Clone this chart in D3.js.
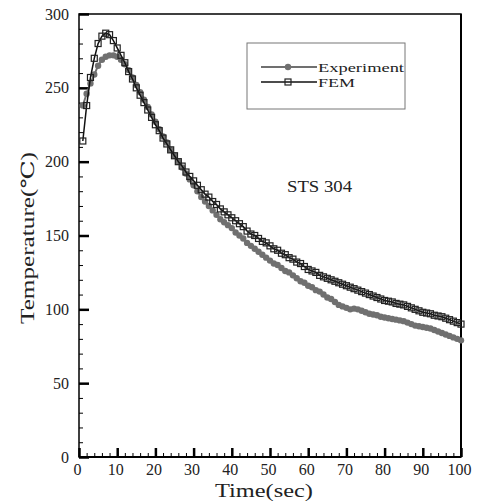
<!DOCTYPE html>
<html>
<head>
<meta charset="utf-8">
<script src="https://cdn.jsdelivr.net/npm/d3@7"></script>
<style>
  body { margin: 0; background: #fff; }
  svg { display: block; }
  text { font-family: "Liberation Serif", "DejaVu Serif", serif; fill: #222; }
</style>
</head>
<body>
<svg width="486" height="503"></svg>
<script>
// data, one point per second
var times = d3.range(1, 101);
var femTemp = [214, 238, 257, 270, 280, 285, 287, 286, 282, 277,
               272, 267, 261, 256, 250, 245, 240, 235, 230, 225,
               221, 216, 212, 208, 204, 200, 197, 193, 190, 187,
               184, 181, 178, 176, 173, 171, 168, 166, 164, 162,
               160, 158, 156, 153, 151, 150, 148, 146, 145, 143,
               141, 140, 138, 137, 135, 134, 132, 131, 129, 127,
               126, 125, 123, 122, 121, 120, 119, 118, 117, 116,
               115, 114, 113, 112, 111, 110, 109, 108, 107, 106,
               105.5, 105, 104, 103.5, 103, 102, 101, 100, 99, 98,
               97.5, 97, 96, 95.5, 95, 94, 93, 92, 91, 90];
var expTemp = [238, 246, 253, 259, 265, 269, 271, 272, 272, 271,
               269, 266, 262, 257, 252, 247, 242, 237, 232, 227,
               222, 217, 213, 208, 204, 200, 196, 192, 188, 184,
               180, 176, 173, 170, 167, 164, 161, 159, 157, 155,
               152, 150, 148, 145, 143, 141, 139, 137, 135, 133,
               131, 130, 128, 126, 125, 123, 121, 119, 118, 116,
               115, 113, 112, 110, 108, 107, 105, 103, 102, 101,
               100, 100.5, 100, 99, 98, 97, 96.5, 96, 95, 94.5,
               94, 93.5, 93, 92.5, 92, 91, 90, 89, 88.5, 88,
               87.5, 87, 86, 85, 84, 83, 82, 81, 80, 79];
var xTicks = d3.range(0, 101, 10);
var yTicks = d3.range(0, 301, 50);
var seriesNames = ["Experiment", "FEM"];

var svg = d3.select("svg");
var x = d3.scaleLinear().domain([0, 100]).range([79, 461]);
var y = d3.scaleLinear().domain([0, 300]).range([457, 14]);

// frame
svg.append("rect")
    .attr("x", x(0)).attr("y", y(300))
    .attr("width", x(100) - x(0)).attr("height", y(0) - y(300))
    .attr("fill", "none").attr("stroke", "#000").attr("stroke-width", 1.5);
svg.append("line")
    .attr("x1", x(100)).attr("x2", x(100)).attr("y1", y(300)).attr("y2", y(0))
    .attr("stroke", "#000").attr("stroke-width", 2);
svg.append("line")
    .attr("x1", x(0)).attr("x2", x(100)).attr("y1", y(0)).attr("y2", y(0))
    .attr("stroke", "#000").attr("stroke-width", 2);

// minor ticks (inside)
svg.append("g")
    .attr("transform", "translate(0," + y(0) + ")")
    .call(d3.axisBottom(x).tickValues(d3.range(0, 101, 2)).tickSize(-4).tickFormat(""))
    .call(g => g.select(".domain").remove())
    .call(g => g.selectAll("line").attr("stroke-width", 1));
svg.append("g")
    .attr("transform", "translate(" + x(0) + ",0)")
    .call(d3.axisLeft(y).tickValues(d3.range(0, 301, 10)).tickSize(-4).tickFormat(""))
    .call(g => g.select(".domain").remove())
    .call(g => g.selectAll("line").attr("stroke-width", 1));

// major ticks
var xAxis = svg.append("g")
    .attr("transform", "translate(0," + y(0) + ")")
    .call(d3.axisBottom(x).tickValues(xTicks).tickSize(-9).tickPadding(7))
    .call(g => g.select(".domain").remove());
xAxis.selectAll("line").attr("stroke-width", 2.5);
xAxis.selectAll("text")
    .attr("font-size", 16).attr("font-family", "Liberation Serif")
    .attr("fill", "#333").attr("dx", -2);

var yAxis = svg.append("g")
    .attr("transform", "translate(" + x(0) + ",0)")
    .call(d3.axisLeft(y).tickValues(yTicks).tickSize(-10).tickPadding(10))
    .call(g => g.select(".domain").remove());
yAxis.selectAll("line").attr("stroke-width", 2.5);
yAxis.selectAll("text")
    .attr("font-size", 16).attr("font-family", "Liberation Serif")
    .attr("fill", "#333");

// axis titles
svg.append("text")
    .attr("x", 264).attr("y", 497)
    .attr("text-anchor", "middle")
    .attr("font-size", 18).attr("fill", "#3a3a3a")
    .attr("textLength", 98).attr("lengthAdjust", "spacingAndGlyphs")
    .text("Time(sec)");
svg.append("text")
    .attr("transform", "translate(34,238) rotate(-90)")
    .attr("text-anchor", "middle")
    .attr("font-size", 18).attr("fill", "#3a3a3a")
    .attr("textLength", 172).attr("lengthAdjust", "spacingAndGlyphs")
    .text("Temperature(℃)");

svg.append("text")
    .attr("x", 287).attr("y", 192)
    .attr("font-size", 16).attr("fill", "#333")
    .attr("textLength", 65).attr("lengthAdjust", "spacingAndGlyphs")
    .text("STS 304");

var expData = times.map((t, i) => ({t: t, v: expTemp[i]}));
var femData = times.map((t, i) => ({t: t, v: femTemp[i]}));
var line = d3.line().x(d => x(d.t)).y(d => y(d.v));

// experiment: gray line + filled dots
svg.append("path").datum(expData)
    .attr("d", line).attr("fill", "none")
    .attr("stroke", "#707070").attr("stroke-width", 2);
svg.append("g").selectAll("circle")
    .data(expData)
    .enter().append("circle")
    .attr("cx", d => x(d.t)).attr("cy", d => y(d.v))
    .attr("r", 3.2)
    .attr("fill", "#707070");

// FEM: black line + open squares
svg.append("path").datum(femData)
    .attr("d", line).attr("fill", "none")
    .attr("stroke", "#111").attr("stroke-width", 1.5);
var sq = 6;
svg.append("g").selectAll("rect")
    .data(femData)
    .enter().append("rect")
    .attr("x", d => x(d.t) - sq / 2).attr("y", d => y(d.v) - sq / 2)
    .attr("width", sq).attr("height", sq)
    .attr("fill", "none").attr("stroke", "#222").attr("stroke-width", 1.2);

// legend
var legend = svg.append("g");
legend.append("rect")
    .attr("x", 247).attr("y", 43).attr("width", 158).attr("height", 66)
    .attr("fill", "#fff").attr("stroke", "#777").attr("stroke-width", 1);
var rows = [67, 82];
var labelWidths = [86, 37];
seriesNames.forEach(function (name, i) {
    var ly = rows[i];
    legend.append("line")
        .attr("x1", 261).attr("x2", 317).attr("y1", ly).attr("y2", ly)
        .attr("stroke", i === 0 ? "#707070" : "#111").attr("stroke-width", i === 0 ? 2 : 1.5);
    if (i === 0) {
        legend.append("circle").attr("cx", 288).attr("cy", ly).attr("r", 3.2).attr("fill", "#707070");
    } else {
        legend.append("rect").attr("x", 285).attr("y", ly - 3).attr("width", 6).attr("height", 6)
            .attr("fill", "none").attr("stroke", "#222").attr("stroke-width", 1.2);
    }
    legend.append("text")
        .attr("x", 318).attr("y", ly + 4.5)
        .attr("font-size", 13.5)
        .attr("textLength", labelWidths[i]).attr("lengthAdjust", "spacingAndGlyphs")
        .text(name);
});
</script>
</body>
</html>
